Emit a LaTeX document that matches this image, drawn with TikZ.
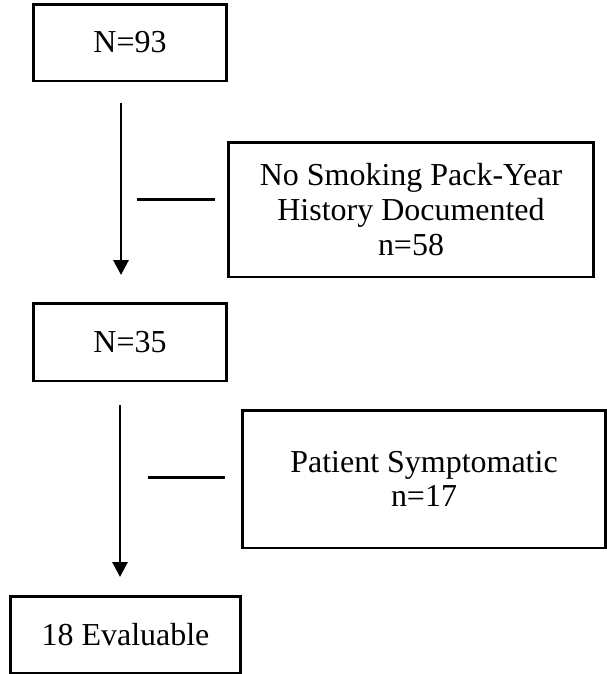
\documentclass[tikz,border=0pt]{standalone}
\usepackage{fontspec}
\setmainfont{Liberation Serif}
\usetikzlibrary{arrows.meta}
\begin{document}
\begin{tikzpicture}[x=0.02cm, y=-0.02cm, >={Triangle[length=8.5pt,width=8.5pt]},
  flowbox/.style={draw, line width=1.7pt, align=center, inner sep=0pt,
    font=\fontsize{18.2}{19.8}\selectfont},
  flowline/.style={line width=1.7pt}]
\useasboundingbox (0,0) rectangle (607,674);
\node[flowbox, minimum width=3.88cm, minimum height=1.54cm] (total) at (130,42.5) {N=93};
\node[flowbox, minimum width=7.32cm, minimum height=2.7cm] (nosmoke) at (411,209.5) {No Smoking Pack-Year\\History Documented\\n=58};
\node[flowbox, minimum width=3.88cm, minimum height=1.56cm] (remain) at (130,342) {N=35};
\node[flowbox, minimum width=7.28cm, minimum height=2.76cm] (sympt) at (424,479) {Patient Symptomatic\\n=17};
\node[flowbox, minimum width=4.62cm, minimum height=1.54cm] (evaluable) at (125.5,634.5) {18 Evaluable};
% main flow
\coordinate (down1a) at (121,103);
\coordinate (down1b) at (121,275);
\coordinate (down2a) at (120,405);
\coordinate (down2b) at (120,577);
\draw[flowline, ->] (down1a) -- (down1b);
\draw[flowline, ->] (down2a) -- (down2b);
% exclusions
\coordinate (side1a) at (137,199);
\coordinate (side1b) at (215,199);
\coordinate (side2a) at (148,477);
\coordinate (side2b) at (225,477);
\draw[flowline] (side1a) -- (side1b);
\draw[flowline] (side2a) -- (side2b);
\end{tikzpicture}
\end{document}
